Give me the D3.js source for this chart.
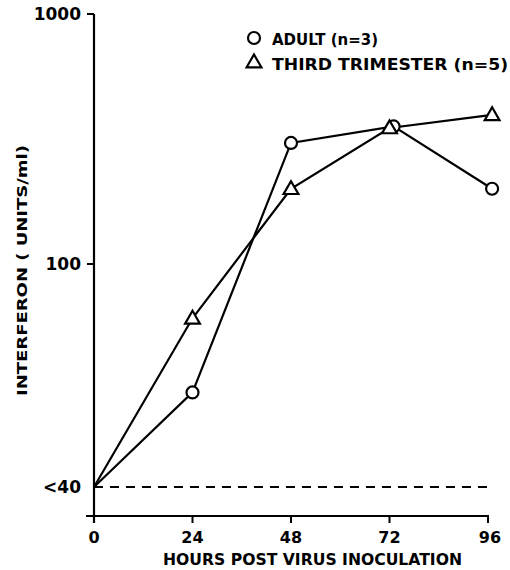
<!DOCTYPE html>
<html>
<head>
<meta charset="utf-8">
<script src="https://cdn.jsdelivr.net/npm/d3@7"></script>
<style>
  body { margin: 0; background: #fff; }
  text { font-family: "DejaVu Sans", sans-serif; font-weight: bold; fill: #000; }
</style>
</head>
<body>
<svg id="chart" width="510" height="570"></svg>
<script>
// ---- data ----
const hours = [0, 24, 48, 72, 96];
const adultHours = [0, 24, 48, 73, 97];
const adultValues = [40, 59, 305, 355, 200];
const thirdHours = [0, 24, 48, 72, 97];
const thirdValues = [40, 80, 200, 350, 395];
const yTickValues = [40, 100, 1000];
const yTickLabels = ["<40", "100", "1000"];
const xTickLabels = ["0", "24", "48", "72", "96"];
const seriesNames = ["ADULT (n=3)", "THIRD TRIMESTER (n=5)"];
const detectionLimit = 40;

(function () {
// ---- layout ----
const svg = d3.select("#chart");
const plotLeft = 94, plotRight = 488, plotTop = 14, axisY = 516;

const x = d3.scaleLinear().domain([0, 96]).range([plotLeft, plotRight]);
const y = d3.scaleLog().domain([40, 100, 1000]).range([487, 264, plotTop]);

const g = svg.append("g");

// dashed detection-limit line
g.append("line")
  .attr("x1", x(0)).attr("x2", x(96))
  .attr("y1", y(detectionLimit)).attr("y2", y(detectionLimit))
  .attr("stroke", "#000").attr("stroke-width", 2)
  .attr("stroke-dasharray", "9,7");

// y axis line
g.append("line").attr("x1", plotLeft).attr("x2", plotLeft)
  .attr("y1", plotTop).attr("y2", axisY + 7)
  .attr("stroke", "#000").attr("stroke-width", 2.2);
// x axis line
g.append("line").attr("x1", plotLeft - 8).attr("x2", plotRight + 1)
  .attr("y1", axisY).attr("y2", axisY)
  .attr("stroke", "#000").attr("stroke-width", 2.2);

// y ticks
yTickValues.forEach((v, i) => {
  if (v !== detectionLimit) {
    g.append("line").attr("x1", plotLeft - 7).attr("x2", plotLeft)
      .attr("y1", y(v)).attr("y2", y(v))
      .attr("stroke", "#000").attr("stroke-width", 2);
  }
  g.append("text")
    .attr("x", 81).attr("y", y(v))
    .attr("dy", "0.36em")
    .attr("text-anchor", "end")
    .attr("font-size", 17)
    .text(yTickLabels[i]);
});

// x ticks
hours.forEach((h, i) => {
  if (h !== 0) {
    g.append("line").attr("x1", x(h)).attr("x2", x(h))
      .attr("y1", axisY).attr("y2", axisY + 7)
      .attr("stroke", "#000").attr("stroke-width", 2);
  }
  g.append("text")
    .attr("x", x(h) + (h === 96 ? 2 : 0)).attr("y", 543)
    .attr("text-anchor", "middle")
    .attr("font-size", 16)
    .text(xTickLabels[i]);
});

// axis titles
g.append("text")
  .attr("x", 163).attr("y", 565)
  .attr("font-size", 16)
  .attr("textLength", 299).attr("lengthAdjust", "spacingAndGlyphs")
  .text("HOURS POST VIRUS INOCULATION");

g.append("text")
  .attr("transform", "translate(27,396) rotate(-90)")
  .attr("font-size", 14)
  .attr("textLength", 251).attr("lengthAdjust", "spacingAndGlyphs")
  .text("INTERFERON ( UNITS/ml)");

// series
const line = d3.line().x(d => x(d[0])).y(d => y(d[1]));
const adult = adultHours.map((h, i) => [h, adultValues[i]]);
const third = thirdHours.map((h, i) => [h, thirdValues[i]]);

[adult, third].forEach(s => {
  g.append("path").datum(s)
    .attr("d", line)
    .attr("fill", "none").attr("stroke", "#000").attr("stroke-width", 2.2);
});

const tri = d3.symbol().type(d3.symbolTriangle).size(95);

function drawCircle(cx, cy) {
  g.append("circle").attr("cx", cx).attr("cy", cy).attr("r", 6)
    .attr("fill", "#fff").attr("stroke", "#000").attr("stroke-width", 2.2);
}
function drawTriangle(cx, cy) {
  g.append("path").attr("d", tri)
    .attr("transform", `translate(${cx},${cy + 1})`)
    .attr("fill", "#fff").attr("stroke", "#000").attr("stroke-width", 2.2)
    .attr("stroke-linejoin", "miter");
}

adult.slice(1).forEach(d => drawCircle(x(d[0]), y(d[1])));
third.slice(1).forEach(d => drawTriangle(x(d[0]), y(d[1])));

// legend
drawCircle(254, 38);
g.append("text").attr("x", 272).attr("y", 45)
  .attr("font-size", 16)
  .attr("textLength", 106).attr("lengthAdjust", "spacingAndGlyphs")
  .text(seriesNames[0]);
drawTriangle(254, 62);
g.append("text").attr("x", 272).attr("y", 70)
  .attr("font-size", 16)
  .attr("textLength", 236).attr("lengthAdjust", "spacingAndGlyphs")
  .text(seriesNames[1]);
})();
</script>
</body>
</html>
